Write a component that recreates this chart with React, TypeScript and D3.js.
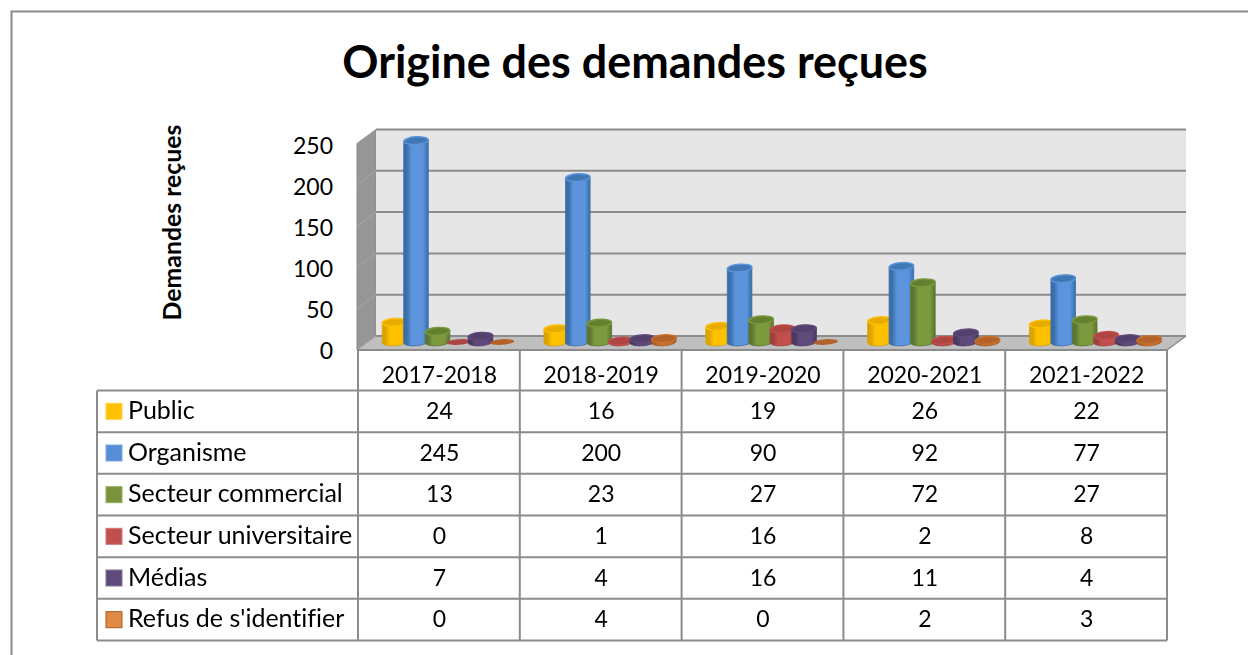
import React from "react";
import * as d3 from "d3";

const title = "Origine des demandes reçues";
const yAxisTitle = "Demandes reçues";
const categories = ["2017-2018", "2018-2019", "2019-2020", "2020-2021", "2021-2022"];
const seriesNames = ["Public", "Organisme", "Secteur commercial", "Secteur universitaire", "Médias", "Refus de s'identifier"];
const publicValues = [24, 16, 19, 26, 22];
const organismeValues = [245, 200, 90, 92, 77];
const commercialValues = [13, 23, 27, 72, 27];
const universitaireValues = [0, 1, 16, 2, 8];
const mediasValues = [7, 4, 16, 11, 4];
const refusValues = [0, 4, 0, 2, 3];
const allValues = [publicValues, organismeValues, commercialValues, universitaireValues, mediasValues, refusValues];
const yTicks = [0, 50, 100, 150, 200, 250];

const fills = ["#FFC000", "#5B95DD", "#7C9A3E", "#C0504D", "#604A7B", "#C8702E"];
const edges = ["#D9A300", "#3A6DA8", "#5B7530", "#9E3F3C", "#4A3862", "#A55A22"];
const tops = ["#E6AC00", "#3F78B5", "#64802F", "#AD4542", "#523F6C", "#B2622A"];
const swatchFills = ["#FFC000", "#558ED5", "#77933C", "#C0504D", "#604A7B", "#E08A45"];
const swatchEdges = ["#FFD24D", "#7FA9E0", "#93AD62", "#D07A77", "#8572A0", "#A55A22"];

const GREY = "#8C8C8C";
const FONT = "Lato, Carlito, sans-serif";
const depthX = 19;
const depthY = 14;
const frontLeft = 358;
const frontRight = 1167;
const frontBottom = 350;
const tableLeft = 97;

const wallY = d3.scaleLinear().domain([0, 250]).range([336, 129.5]);
const tickY = d3.scaleLinear().domain([0, 250]).range([350, 145]);
const barY = d3.scaleLinear().domain([0, 250]).range([342, 136.5]);
const catX = d3.scaleBand<string>().domain(categories).range([frontLeft, frontRight]);
const serX = d3.scalePoint<string>().domain(seriesNames).range([36.5, 144]);
const rowY = d3.scaleBand<string>().domain(seriesNames).range([390.5, 640.5]);

const RX = 12.3;
const RY = 3.8;
const TILT = -4;
const dyT = RX * Math.sin((-TILT * Math.PI) / 180);

function Cylinder({ x, value, si }: { x: number; value: number; si: number }) {
  const y0 = barY(0);
  const y1 = barY(value);
  const bodyD =
    `M${x - RX},${y1 + dyT} L${x - RX},${y0 + dyT} ` +
    `A${RX},${RY} ${TILT} 0 0 ${x + RX},${y0 - dyT} ` +
    `L${x + RX},${y1 - dyT} A${RX},${RY} ${TILT} 0 1 ${x - RX},${y1 + dyT} Z`;
  return (
    <g>
      {value > 0 && <path d={bodyD} fill={`url(#cyl${si})`} stroke={edges[si]} strokeWidth={0.8} />}
      <ellipse
        cx={x}
        cy={y1}
        rx={RX}
        ry={RY - (value === 0 ? 1 : 0)}
        transform={`rotate(${TILT} ${x} ${y1})`}
        fill={tops[si]}
        stroke={value === 0 ? "none" : fills[si]}
        strokeWidth={1.4}
      />
    </g>
  );
}

export default function App() {
  const rowH = rowY.bandwidth();
  return (
    <svg
      width={1248}
      height={655}
      style={{ position: "absolute", left: 0, top: 0, background: "#fff", fontVariantLigatures: "none" }}
      fontFamily={FONT}
    >
      <defs>
        {fills.map((f, i) => (
          <linearGradient key={i} id={`cyl${i}`} x1="0" x2="1" y1="0" y2="0">
            <stop offset="0" stopColor={edges[i]} />
            <stop offset="0.12" stopColor={edges[i]} />
            <stop offset="0.32" stopColor={f} />
            <stop offset="0.78" stopColor={f} />
            <stop offset="1" stopColor={edges[i]} />
          </linearGradient>
        ))}
        <filter id="soft" x="-5%" y="-5%" width="110%" height="110%">
          <feGaussianBlur stdDeviation="0.45" />
        </filter>
      </defs>

      <path d="M11.5,655 L11.5,11.5 L1248,11.5" fill="none" stroke={GREY} strokeWidth={2} />

      <text x={635} y={78} textAnchor="middle" fontSize={44.9} fontWeight={700} fill="#000">
        {title}
      </text>

      <text
        transform="translate(181,222.5) rotate(-90)"
        textAnchor="middle"
        fontSize={24.8}
        fontWeight={700}
        fill="#000"
      >
        {yAxisTitle}
      </text>

      {yTicks.map((t) => (
        <text key={t} x={333} y={tickY(t) + 8.5} textAnchor="end" fontSize={23} fill="#000">
          {t}
        </text>
      ))}

      {/* walls and floor */}
      <polygon
        points={`${frontLeft - 1},${wallY(250) + depthY} ${frontLeft + depthX - 1},${wallY(250)} ${frontLeft + depthX - 1},${wallY(0)} ${frontLeft - 1},${frontBottom}`}
        fill="#969696"
        stroke="#8A8A8A"
        strokeWidth={1}
      />
      <rect
        x={frontLeft + depthX - 1}
        y={wallY(250)}
        width={frontRight - frontLeft + 1}
        height={wallY(0) - wallY(250)}
        fill="#E6E6E6"
      />
      <polygon
        points={`${frontLeft + depthX - 1},${wallY(0)} ${frontRight + depthX},${wallY(0)} ${frontRight},${frontBottom} ${frontLeft - 1},${frontBottom}`}
        fill="#BFBFBF"
      />
      {yTicks.map((t) => (
        <g key={t}>
          <line
            x1={frontLeft - 1}
            x2={frontLeft + depthX - 1}
            y1={wallY(t) + depthY}
            y2={wallY(t)}
            stroke="#A6A6A6"
            strokeWidth={1}
          />
          <line
            x1={frontLeft + depthX - 1}
            x2={frontRight + depthX}
            y1={wallY(t)}
            y2={wallY(t)}
            stroke={GREY}
            strokeWidth={2}
          />
        </g>
      ))}
      <line x1={frontRight} x2={frontRight + depthX} y1={frontBottom} y2={wallY(0)} stroke={GREY} strokeWidth={1.5} />

      {/* cylinders */}
      <g filter="url(#soft)">
        {categories.map((c, ci) =>
          seriesNames.map((s, si) => (
            <Cylinder key={c + s} x={(catX(c) as number) + (serX(s) as number)} value={allValues[si][ci]} si={si} />
          ))
        )}
      </g>

      <line x1={frontLeft - 1} x2={frontRight} y1={frontBottom} y2={frontBottom} stroke={GREY} strokeWidth={2} />

      {/* data table */}
      <line x1={tableLeft} x2={frontRight} y1={rowY.range()[0]} y2={rowY.range()[0]} stroke={GREY} strokeWidth={2} />
      {seriesNames.map((s) => (
        <line
          key={s}
          x1={tableLeft}
          x2={frontRight}
          y1={(rowY(s) as number) + rowH}
          y2={(rowY(s) as number) + rowH}
          stroke={GREY}
          strokeWidth={2}
        />
      ))}
      <line x1={tableLeft} x2={tableLeft} y1={rowY.range()[0]} y2={rowY.range()[1]} stroke={GREY} strokeWidth={2} />
      <line x1={frontLeft} x2={frontLeft} y1={frontBottom} y2={rowY.range()[1]} stroke={GREY} strokeWidth={2} />
      {categories.map((c) => (
        <line
          key={c}
          x1={(catX(c) as number) + catX.bandwidth()}
          x2={(catX(c) as number) + catX.bandwidth()}
          y1={frontBottom}
          y2={rowY.range()[1]}
          stroke={GREY}
          strokeWidth={2}
        />
      ))}
      {categories.map((c) => (
        <text key={c} x={(catX(c) as number) + catX.bandwidth() / 2 + 0.5} y={383} textAnchor="middle" fontSize={23} fill="#000">
          {c}
        </text>
      ))}
      {seriesNames.map((s, si) => (
        <g key={s}>
          <rect
            x={106}
            y={(rowY(s) as number) + rowH / 2 - 8}
            width={16}
            height={16}
            fill={swatchFills[si]}
            stroke={swatchEdges[si]}
            strokeWidth={1}
          />
          <text x={128} y={(rowY(s) as number) + rowH / 2 + 7.5} fontSize={25} fill="#000">
            {s}
          </text>
          {categories.map((c, ci) => (
            <text
              key={c}
              x={(catX(c) as number) + catX.bandwidth() / 2 + 0.5}
              y={(rowY(s) as number) + rowH / 2 + 7.5}
              textAnchor="middle"
              fontSize={23}
              fill="#000"
            >
              {allValues[si][ci]}
            </text>
          ))}
        </g>
      ))}
    </svg>
  );
}
